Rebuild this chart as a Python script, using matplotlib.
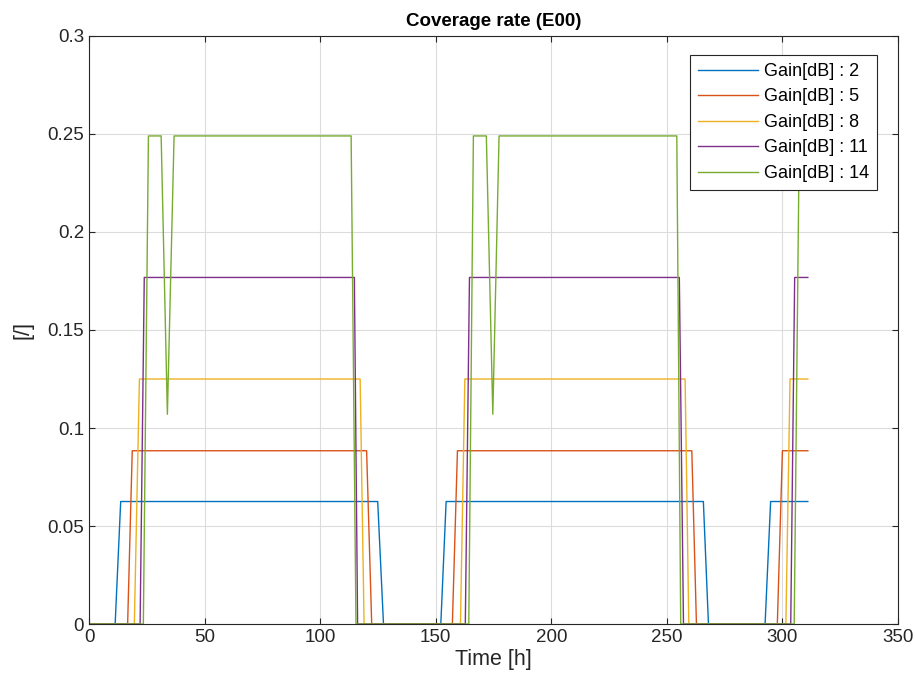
import matplotlib
matplotlib.use("Agg")
import matplotlib.pyplot as plt

# Данные (время в часах, доля покрытия)
t_g2 = [0, 11.3, 13.7, 124.9, 127.4, 152.2, 154.5, 265.8, 268.0, 292.5, 294.9, 311]
v_g2 = [0, 0, 0.0625, 0.0625, 0, 0, 0.0625, 0.0625, 0, 0, 0.0625, 0.0625]

t_g5 = [0, 16.7, 18.7, 120.1, 122.3, 157.2, 159.4, 260.8, 262.8, 297.8, 300.0, 311]
v_g5 = [0, 0, 0.0884, 0.0884, 0, 0, 0.0884, 0.0884, 0, 0, 0.0884, 0.0884]

t_g8 = [0, 19.6, 21.8, 117.3, 119.0, 160.7, 162.6, 257.9, 259.5, 301.5, 303.3, 311]
v_g8 = [0, 0, 0.125, 0.125, 0, 0, 0.125, 0.125, 0, 0, 0.125, 0.125]

t_g11 = [0, 22.1, 23.9, 114.8, 116.2, 162.8, 164.6, 255.4, 257.2, 303.6, 305.3, 311]
v_g11 = [0, 0, 0.1768, 0.1768, 0, 0, 0.1768, 0.1768, 0, 0, 0.1768, 0.1768]

t_g14 = [0, 23.5, 25.7, 31.2, 33.9, 36.8, 113.4, 115.5, 164.3, 166.3, 171.9, 174.7,
         177.4, 254.3, 256.0, 305.1, 307.3, 311]
v_g14 = [0, 0, 0.249, 0.249, 0.107, 0.249, 0.249, 0, 0, 0.249, 0.249, 0.107,
         0.249, 0.249, 0, 0, 0.249, 0.249]

gains = [2, 5, 8, 11, 14]
series = [(t_g2, v_g2), (t_g5, v_g5), (t_g8, v_g8), (t_g11, v_g11), (t_g14, v_g14)]
colors = ["#0072BD", "#D95319", "#EDB120", "#7E2F8E", "#77AC30"]

plt.rcParams["font.family"] = ["Liberation Sans", "DejaVu Sans"]
txt = "#262626"

fig = plt.figure(figsize=(9.15, 6.89), dpi=100)
ax = fig.add_axes([0.0973, 0.0943, 0.8841, 0.8535])

for (t, v), g, c in zip(series, gains, colors):
    ax.plot(t, v, color=c, linewidth=1.0, label="Gain[dB] : " + str(g))

ax.set_xlim(0, 350)
ax.set_ylim(0, 0.3)
ax.set_xticks(range(0, 351, 50))
ax.set_yticks([0, 0.05, 0.1, 0.15, 0.2, 0.25, 0.3])
ax.set_yticklabels(["0", "0.05", "0.1", "0.15", "0.2", "0.25", "0.3"])
ax.grid(True, color="#dcdcdc", linewidth=0.8)
ax.set_axisbelow(True)
ax.tick_params(direction="in", top=True, right=True, labelsize=13.5,
               colors=txt, length=4, width=0.8)
for s in ax.spines.values():
    s.set_color(txt)
    s.set_linewidth(0.8)

ax.set_xlabel("Time [h]", fontsize=15.5, color=txt, labelpad=2)
ax.set_ylabel("[/]", fontsize=15.5, color=txt, labelpad=10)
ax.set_title("Coverage rate (E00)", fontsize=13.5, fontweight="bold", color="black", pad=7)

leg = ax.legend(loc="upper right", bbox_to_anchor=(0.9745, 0.968), fontsize=13,
                frameon=True, fancybox=False, handlelength=3.3, handletextpad=0.35,
                labelspacing=0.47, borderpad=0.45, borderaxespad=0)
leg.get_frame().set_edgecolor(txt)
leg.get_frame().set_linewidth(0.8)
leg.get_frame().set_alpha(1)

fig.savefig("out.png", dpi=100)
